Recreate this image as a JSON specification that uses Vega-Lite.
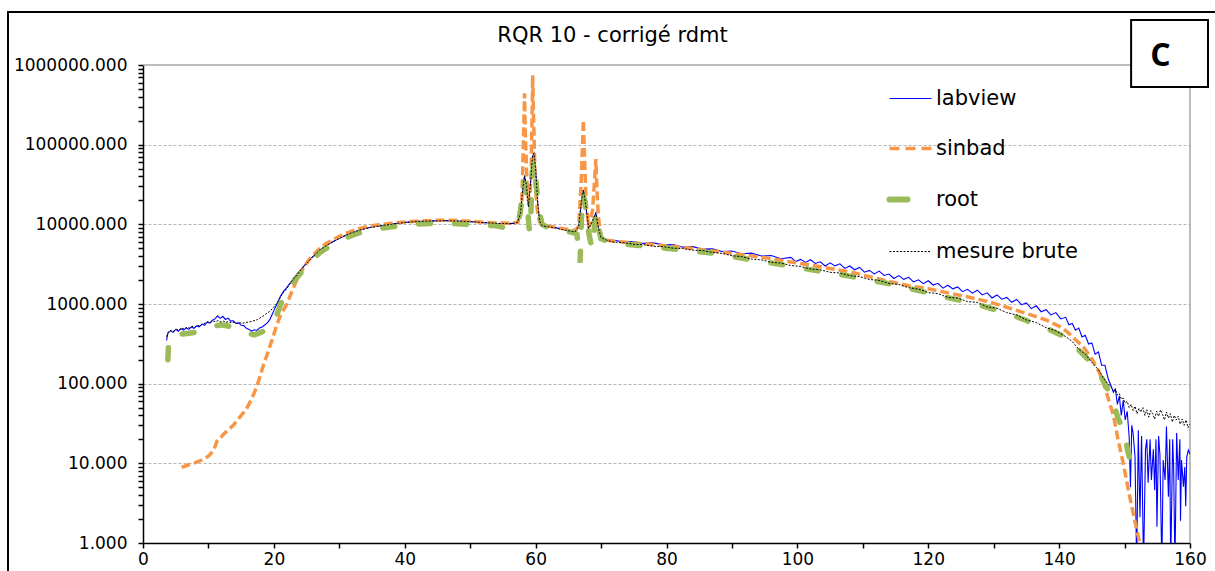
{
"$schema": "https://vega.github.io/schema/vega-lite/v6.json",
"width": 1047, "height": 478,
"autosize": {"type": "none"},
"padding": {"left": 143, "top": 65, "right": 25, "bottom": 28},
"background": "white",
"config": {"view": {"stroke": null}, "font": "DejaVu Sans"},
"title": {"text": "RQR 10 - corrigé rdmt", "fontSize": 21, "fontWeight": "normal", "font": "DejaVu Sans", "color": "#000", "anchor": "middle", "frame": "group", "dx": -54, "baseline": "alphabetic", "offset": -52},
"layer": [
{"data": {"values": [{}]}, "mark": {"type": "rule", "color": "#a6a6a6", "strokeWidth": 1.5, "clip": false},
 "encoding": {"x": {"datum": 0, "type": "quantitative"}, "x2": {"datum": 160}, "y": {"datum": 1000000, "type": "quantitative"}}},
{"data": {"values": [{}]}, "mark": {"type": "rule", "color": "#a6a6a6", "strokeWidth": 1.5, "clip": false},
 "encoding": {"x": {"datum": 160, "type": "quantitative"}, "y": {"datum": 1, "type": "quantitative"}, "y2": {"datum": 1000000}}},
{"data": {"values": [
{"x":3.6,"y":350},{"x":3.8,"y":430},{"x":4.2,"y":460},{"x":4.6,"y":440},{"x":5.0,"y":480},{"x":5.4,"y":455},{"x":5.8,"y":490},{"x":6.2,"y":470},{"x":6.6,"y":500},{"x":7.0,"y":480},{"x":7.4,"y":515},{"x":7.8,"y":495},{"x":8.2,"y":530},{"x":8.6,"y":515},{"x":9.0,"y":560},{"x":9.4,"y":540},{"x":9.8,"y":590},{"x":10.2,"y":575},{"x":10.6,"y":625},{"x":11.0,"y":650},{"x":11.4,"y":710},{"x":11.8,"y":660},{"x":12.2,"y":700},{"x":12.6,"y":640},{"x":13.0,"y":665},{"x":13.4,"y":610},{"x":13.8,"y":615},{"x":14.2,"y":570},{"x":14.6,"y":580},{"x":15.0,"y":540},{"x":15.4,"y":535},{"x":15.8,"y":495},{"x":16.2,"y":480},{"x":16.6,"y":455},{"x":17.0,"y":475},{"x":17.4,"y":465},{"x":17.8,"y":500},{"x":18.2,"y":515},{"x":18.6,"y":545},{"x":19.0,"y":580},{"x":19.4,"y":640},{"x":19.8,"y":760},{"x":20.2,"y":900},{"x":20.6,"y":1050},{"x":21.0,"y":1250},{"x":21.5,"y":1450},{"x":22.0,"y":1620},{"x":22.5,"y":1850},{"x":23.0,"y":2100},{"x":23.5,"y":2350},{"x":24.0,"y":2650},{"x":24.5,"y":2950},{"x":25.0,"y":3250},{"x":25.5,"y":3600},{"x":26.0,"y":3950},{"x":27.0,"y":4700},{"x":28.0,"y":5450},{"x":29.0,"y":6050},{"x":30.0,"y":6700},{"x":31.0,"y":7300},{"x":32.0,"y":7900},{"x":33.0,"y":8450},{"x":34.0,"y":8850},{"x":35.0,"y":9250},{"x":36.0,"y":9500},{"x":37.0,"y":9800},{"x":38.0,"y":10100},{"x":39.0,"y":10350},{"x":40.0,"y":10600},{"x":41,"y":10750},{"x":42.0,"y":10900},{"x":43,"y":10950},{"x":44.0,"y":11050},{"x":45,"y":11000},{"x":46.0,"y":11150},{"x":47,"y":11050},{"x":48.0,"y":11000},{"x":49,"y":10950},{"x":50.0,"y":10800},{"x":51,"y":10700},{"x":52.0,"y":10500},{"x":53,"y":10450},{"x":54.0,"y":10300},{"x":55.0,"y":10250},{"x":56.0,"y":10200},{"x":56.8,"y":10350},{"x":57.3,"y":10800},{"x":57.7,"y":14000},{"x":58.0,"y":26000},{"x":58.3,"y":40000},{"x":58.6,"y":30000},{"x":58.9,"y":17000},{"x":59.2,"y":32000},{"x":59.5,"y":70000},{"x":59.75,"y":78000},{"x":60.0,"y":48000},{"x":60.3,"y":19000},{"x":60.6,"y":11000},{"x":61.0,"y":9700},{"x":62.0,"y":9400},{"x":63.0,"y":9100},{"x":64.0,"y":8800},{"x":65.0,"y":8500},{"x":66.0,"y":8200},{"x":66.6,"y":9500},{"x":67.0,"y":19000},{"x":67.3,"y":27000},{"x":67.7,"y":16000},{"x":68.1,"y":9000},{"x":68.6,"y":10500},{"x":69.2,"y":13900},{"x":69.6,"y":9000},{"x":70.0,"y":6900},{"x":71.0,"y":6300},
{"x":72,"y":6300},{"x":73.5,"y":5980},{"x":75,"y":6090},{"x":76.5,"y":5760},{"x":78,"y":5850},{"x":79.5,"y":5530},{"x":81,"y":5560},{"x":82.5,"y":5170},{"x":84,"y":5250},{"x":85.5,"y":4880},{"x":87,"y":4920},{"x":88.5,"y":4560},{"x":90,"y":4620},{"x":91.5,"y":4270},{"x":93,"y":4350},{"x":94.5,"y":4000},{"x":96,"y":4060},{"x":97.5,"y":3700},
{"x":99,"y":3840},{"x":99.75,"y":3410},{"x":100.5,"y":3630},{"x":101.25,"y":3320},{"x":102,"y":3590},{"x":102.75,"y":3230},{"x":103.5,"y":3390},{"x":104.25,"y":3000},{"x":105,"y":3290},{"x":105.75,"y":3010},{"x":106.5,"y":3190},{"x":107.25,"y":2800},{"x":108,"y":3000},{"x":108.75,"y":2690},{"x":109.5,"y":2880},{"x":110.25,"y":2510},{"x":111,"y":2640},{"x":111.75,"y":2390},{"x":112.5,"y":2590},{"x":113.25,"y":2280},{"x":114,"y":2380},{"x":114.75,"y":2090},{"x":115.5,"y":2270},{"x":116.25,"y":2040},{"x":117,"y":2160},{"x":117.75,"y":1890},{"x":118.5,"y":2010},{"x":119.25,"y":1800},{"x":120,"y":1960},{"x":120.75,"y":1730},{"x":121.5,"y":1820},{"x":122.25,"y":1580},{"x":123,"y":1720},{"x":123.75,"y":1550},{"x":124.5,"y":1640},{"x":125.25,"y":1430},{"x":126,"y":1530},{"x":126.75,"y":1370},{"x":127.5,"y":1490},{"x":128.25,"y":1300},{"x":129,"y":1380},{"x":129.75,"y":1190},{"x":130.5,"y":1300},{"x":131.25,"y":1150},{"x":132,"y":1210},{"x":132.75,"y":1050},{"x":133.5,"y":1140},{"x":134.25,"y":980},{"x":135,"y":1030},{"x":135.75,"y":875},{"x":136.5,"y":950},{"x":137.25,"y":800},{"x":138,"y":850},{"x":138.75,"y":730},{"x":139.5,"y":780},{"x":140.25,"y":650},{"x":141,"y":680},{"x":141.5,"y":550},{"x":142,"y":570},{"x":142.5,"y":470},{"x":143,"y":500},{"x":143.5,"y":385},{"x":144,"y":405},{"x":144.5,"y":315},{"x":145,"y":325},{"x":145.5,"y":235},{"x":146,"y":250},{"x":146.5,"y":170},{"x":147,"y":170},{"x":147.5,"y":115},
{"x":148.0,"y":91},{"x":148.3,"y":78},{"x":148.6,"y":85},{"x":148.9,"y":55},{"x":149.2,"y":70},{"x":149.5,"y":40},{"x":149.8,"y":62},{"x":150.1,"y":35},{"x":150.4,"y":45},{"x":150.7,"y":22},{"x":150.9,"y":5},{"x":151.1,"y":30},{"x":151.3,"y":24},{"x":151.6,"y":12},{"x":151.85,"y":0.5},{"x":152.1,"y":26},{"x":152.35,"y":2.1},{"x":152.6,"y":22},{"x":152.9,"y":0.5},{"x":153.2,"y":15},{"x":153.4,"y":20},{"x":153.6,"y":5.7},{"x":153.9,"y":20},{"x":154.1,"y":6.2},{"x":154.4,"y":15},{"x":154.6,"y":4.6},{"x":154.8,"y":20},{"x":154.95,"y":1.6},{"x":155.2,"y":22},{"x":155.4,"y":13},{"x":155.7,"y":0.5},{"x":155.9,"y":11},{"x":156.2,"y":6.2},{"x":156.4,"y":29},{"x":156.7,"y":3.8},{"x":156.9,"y":20},{"x":157.05,"y":0.5},{"x":157.35,"y":20},{"x":157.5,"y":9},{"x":157.7,"y":0.5},{"x":157.96,"y":24},{"x":158.2,"y":6.2},{"x":158.45,"y":20},{"x":158.55,"y":1.9},{"x":158.7,"y":11},{"x":159.0,"y":5.1},{"x":159.2,"y":9},{"x":159.35,"y":2.9},{"x":159.5,"y":12},{"x":159.75,"y":14.7},{"x":160.0,"y":13}
]},
 "mark": {"type": "line", "clip": true, "strokeWidth": 1.1},
 "encoding": {
  "x": {"field": "x", "type": "quantitative", "scale": {"domain": [0, 160], "nice": false, "zero": false},
   "axis": {"title": null, "values": [0,10,20,30,40,50,60,70,80,90,100,110,120,130,140,150,160], "labelExpr": "datum.value % 20 == 0 ? datum.label : ''", "grid": false, "domainColor": "#000", "domainWidth": 1.5, "tickColor": "#000", "tickWidth": 1.5, "tickSize": 5, "labelFont": "DejaVu Sans", "labelFontSize": 17, "labelColor": "#000", "labelPadding": 3, "labelFlush": false, "labelOverlap": false}},
  "y": {"field": "y", "type": "quantitative", "scale": {"type": "log", "domain": [1, 1000000], "nice": false},
   "axis": {"title": null, "values": [1,2,3,4,5,6,7,8,9,10,20,30,40,50,60,70,80,90,100,200,300,400,500,600,700,800,900,1000,2000,3000,4000,5000,6000,7000,8000,9000,10000,20000,30000,40000,50000,60000,70000,80000,90000,100000,200000,300000,400000,500000,600000,700000,800000,900000,1000000],
    "labelExpr": "indexof([1,10,100,1000,10000,100000,1000000], datum.value) >= 0 ? format(datum.value, '.3f') : ''",
    "grid": true, "gridColor": "#b4b4b4", "gridDash": [3, 2], "gridWidth": 1,
    "gridOpacity": {"condition": {"test": "indexof([10,100,1000,10000,100000], datum.value) >= 0", "value": 1}, "value": 0},
    "domainColor": "#000", "domainWidth": 1.5, "tickColor": "#000", "tickWidth": 1.5, "tickSize": 5,
    "labelFont": "DejaVu Sans", "labelFontSize": 17, "labelColor": "#000", "labelPadding": 11, "labelOverlap": false, "labelBaseline": "middle"}},
  "color": {"datum": "labview", "type": "nominal",
   "scale": {"domain": ["labview", "sinbad", "root", "mesure brute"], "range": ["#0000ff", "#f79646", "#9bbb59", "#000000"]},
   "legend": {"title": null, "orient": "none", "legendX": 757, "legendY": 23, "symbolType": "stroke", "symbolSize": 1764,
    "labelFont": "DejaVu Sans", "labelFontSize": 21, "labelColor": "#000", "labelOffset": 15, "rowPadding": 28, "padding": 0,
    "encode": {"symbols": {"update": {
      "size": {"value": 1764},
      "strokeWidth": {"signal": "datum.value == 'sinbad' ? 3.5 : datum.value == 'root' ? 6 : 1"},
      "strokeDash": {"signal": "datum.value == 'sinbad' ? [10, 6] : datum.value == 'root' ? [18, 40] : datum.value == 'mesure brute' ? [2, 1.5] : [100, 0]"},
      "strokeCap": {"signal": "datum.value == 'root' ? 'round' : 'butt'"}}}}}}
 }},
{"data": {"values": [
{"x":5.9,"y":8.9},{"x":7,"y":9.6},{"x":8,"y":10.2},{"x":9,"y":11},{"x":10,"y":12.3},{"x":10.8,"y":14.5},{"x":11.3,"y":19},{"x":12.5,"y":24},{"x":13.8,"y":30},{"x":14.8,"y":38},{"x":15.8,"y":48},{"x":16.5,"y":62},{"x":17.1,"y":80},{"x":17.7,"y":110},{"x":18.4,"y":170},{"x":19.1,"y":250},{"x":19.7,"y":350},{"x":20.3,"y":500},{"x":20.9,"y":690},{"x":21.5,"y":850},{"x":22,"y":1000},{"x":22.7,"y":1400},{"x":23.5,"y":2000},{"x":24.5,"y":2850},{"x":25.5,"y":3700},{"x":27,"y":5000},{"x":28,"y":5750},{"x":29,"y":6400},{"x":30,"y":7050},{"x":31,"y":7700},{"x":32,"y":8300},{"x":33,"y":8800},{"x":34,"y":9250},{"x":35,"y":9600},{"x":36,"y":9900},{"x":38,"y":10300},{"x":40,"y":10700},{"x":42,"y":11000},{"x":44,"y":11200},{"x":46,"y":11250},{"x":48,"y":11150},{"x":50,"y":10950},{"x":52,"y":10650},{"x":54,"y":10400},{"x":56,"y":10300},{"x":57.3,"y":10600},{"x":57.9,"y":20000},{"x":58.15,"y":120000},{"x":58.3,"y":440000},{"x":58.45,"y":120000},{"x":58.7,"y":30000},{"x":59.0,"y":17000},{"x":59.3,"y":40000},{"x":59.45,"y":200000},{"x":59.55,"y":745000},{"x":59.7,"y":200000},{"x":59.95,"y":30000},{"x":60.3,"y":14000},{"x":60.6,"y":10800},{"x":61,"y":9800},{"x":62,"y":9500},{"x":63,"y":9200},{"x":64,"y":8900},{"x":65,"y":8600},{"x":66,"y":8300},{"x":66.6,"y":9500},{"x":67.0,"y":40000},{"x":67.2,"y":120000},{"x":67.3,"y":204000},{"x":67.45,"y":80000},{"x":67.7,"y":20000},{"x":68.1,"y":9000},{"x":68.7,"y":15000},{"x":69.05,"y":40000},{"x":69.2,"y":66000},{"x":69.35,"y":30000},{"x":69.6,"y":12000},{"x":70,"y":7000},{"x":71,"y":6300},{"x":72,"y":6110},{"x":75,"y":5830},{"x":78,"y":5570},{"x":81,"y":5270},{"x":84,"y":4980},{"x":87,"y":4630},{"x":90,"y":4310},{"x":93,"y":4020},{"x":96,"y":3700},{"x":99,"y":3370},{"x":102,"y":3080},{"x":105,"y":2790},{"x":108,"y":2540},{"x":111,"y":2200},{"x":114,"y":1920},{"x":117,"y":1700},{"x":120,"y":1550},{"x":123,"y":1380},{"x":126,"y":1230},{"x":129,"y":1080},{"x":132,"y":910},{"x":135,"y":760},{"x":138,"y":630},{"x":140,"y":525},{"x":141.2,"y":450},{"x":142.5,"y":355},{"x":143.7,"y":290},{"x":145,"y":205},{"x":146.2,"y":135},{"x":147,"y":89},{"x":148.3,"y":40},{"x":149,"y":20},{"x":149.8,"y":10},{"x":150.5,"y":5},{"x":151.3,"y":2.4},{"x":152,"y":1.3},{"x":152.6,"y":0.8}
]},
 "mark": {"type": "line", "clip": true, "strokeWidth": 3.5, "strokeDash": [9, 4]},
 "encoding": {"x": {"field": "x", "type": "quantitative"}, "y": {"field": "y", "type": "quantitative"}, "color": {"datum": "sinbad", "type": "nominal"}}},
{"data": {"values": [
{"x":3.8,"y":200},{"x":3.95,"y":380},{"x":5,"y":400},{"x":6,"y":420},{"x":7,"y":430},{"x":8,"y":440},{"x":9,"y":460},{"x":10,"y":490},{"x":11,"y":530},{"x":12,"y":550},{"x":13,"y":530},{"x":14,"y":490},{"x":15,"y":460},{"x":16,"y":430},{"x":17,"y":410},{"x":18,"y":440},{"x":19,"y":480},{"x":19.7,"y":530},{"x":20.5,"y":750},{"x":21,"y":980},{"x":22,"y":1450},{"x":23,"y":1900},{"x":24,"y":2400},{"x":25,"y":3000},{"x":26,"y":3650},{"x":27,"y":4400},{"x":28,"y":5000},{"x":29,"y":5550},{"x":30,"y":6150},{"x":31,"y":6750},{"x":32,"y":7300},{"x":33,"y":7800},{"x":34,"y":8200},{"x":35,"y":8550},{"x":36,"y":8850},{"x":38,"y":9300},{"x":40,"y":9800},{"x":42,"y":10100},{"x":44,"y":10250},{"x":46,"y":10300},{"x":48,"y":10200},{"x":50,"y":10000},{"x":52,"y":9800},{"x":54,"y":9600},{"x":55.5,"y":9000},{"x":56.5,"y":9500},{"x":57.3,"y":10000},{"x":57.7,"y":15000},{"x":58.0,"y":30000},{"x":58.2,"y":35000},{"x":58.5,"y":25000},{"x":58.8,"y":15000},{"x":59.0,"y":9000},{"x":59.2,"y":8000},{"x":59.4,"y":30000},{"x":59.7,"y":63000},{"x":60.0,"y":40000},{"x":60.3,"y":20000},{"x":60.6,"y":14000},{"x":61,"y":10000},{"x":62,"y":9000},{"x":63,"y":8700},{"x":64,"y":8400},{"x":65,"y":8100},{"x":66,"y":7800},{"x":66.3,"y":7500},{"x":66.6,"y":5000},{"x":66.8,"y":3300},{"x":67.0,"y":12000},{"x":67.3,"y":24500},{"x":67.7,"y":14000},{"x":68.1,"y":8000},{"x":68.4,"y":6000},{"x":68.7,"y":5000},{"x":69.0,"y":10000},{"x":69.2,"y":14000},{"x":69.6,"y":9000},{"x":70,"y":6600},{"x":71,"y":6100},{"x":72,"y":5800},{"x":75,"y":5500},{"x":78,"y":5200},{"x":81,"y":4900},{"x":84,"y":4650},{"x":87,"y":4350},{"x":90,"y":3950},{"x":93,"y":3600},{"x":96,"y":3280},{"x":99,"y":2980},{"x":102,"y":2700},{"x":105,"y":2460},{"x":108,"y":2240},{"x":111,"y":2000},{"x":114,"y":1800},{"x":117,"y":1580},{"x":120,"y":1380},{"x":123,"y":1200},{"x":126,"y":1060},{"x":129,"y":910},{"x":132,"y":770},{"x":135,"y":620},{"x":138,"y":500},{"x":141,"y":385},{"x":143,"y":265},{"x":145,"y":180},{"x":146,"y":140},{"x":147,"y":100},{"x":148,"y":68},{"x":149,"y":37},{"x":150,"y":24},{"x":150.5,"y":14},{"x":151.3,"y":8}
]},
 "mark": {"type": "line", "clip": true, "strokeWidth": 5.5, "strokeDash": [12, 24], "strokeCap": "round"},
 "encoding": {"x": {"field": "x", "type": "quantitative"}, "y": {"field": "y", "type": "quantitative"}, "color": {"datum": "root", "type": "nominal"}}},
{"data": {"values": [
{"x":3.6,"y":390},{"x":3.9,"y":450},{"x":4.3,"y":470},{"x":4.7,"y":455},{"x":5.1,"y":480},{"x":5.5,"y":470},{"x":5.9,"y":500},{"x":6.3,"y":485},{"x":6.7,"y":510},{"x":7.1,"y":500},{"x":7.5,"y":525},{"x":7.9,"y":510},{"x":8.3,"y":540},{"x":8.7,"y":530},{"x":9.1,"y":560},{"x":9.5,"y":575},{"x":9.9,"y":600},{"x":10.3,"y":585},{"x":10.7,"y":610},{"x":11.1,"y":600},{"x":11.5,"y":620},{"x":11.9,"y":595},{"x":12.3,"y":610},{"x":12.7,"y":590},{"x":13.1,"y":600},{"x":13.5,"y":580},{"x":13.9,"y":590},{"x":14.3,"y":570},{"x":14.7,"y":585},{"x":15.1,"y":570},{"x":15.5,"y":580},{"x":15.9,"y":590},{"x":16.3,"y":595},{"x":16.7,"y":610},{"x":17.1,"y":620},{"x":17.5,"y":640},{"x":17.9,"y":670},{"x":18.3,"y":700},{"x":18.7,"y":740},{"x":19.1,"y":780},{"x":19.5,"y":830},{"x":19.9,"y":900},{"x":20.3,"y":980},{"x":20.7,"y":1100},{"x":21.1,"y":1250},{"x":21.5,"y":1400},{"x":22,"y":1580},{"x":23,"y":2050},{"x":24,"y":2600},{"x":25,"y":3240},{"x":26,"y":3950},{"x":27,"y":4760},{"x":28,"y":5400},{"x":29,"y":6000},{"x":30,"y":6650},{"x":31,"y":7300},{"x":32,"y":7900},{"x":33,"y":8400},{"x":34,"y":8850},{"x":35,"y":9200},{"x":36,"y":9500},{"x":37,"y":9800},{"x":38,"y":10000},{"x":39,"y":10300},{"x":40,"y":10500},{"x":41,"y":10700},{"x":42,"y":10850},{"x":43,"y":10950},{"x":44,"y":11000},{"x":45,"y":11050},{"x":46,"y":11100},{"x":47,"y":11050},{"x":48,"y":11000},{"x":49,"y":10900},{"x":50,"y":10800},{"x":51,"y":10650},{"x":52,"y":10500},{"x":53,"y":10400},{"x":54,"y":10300},{"x":55,"y":10250},{"x":56,"y":10200},{"x":56.8,"y":10300},{"x":57.3,"y":10700},{"x":57.7,"y":14000},{"x":58.0,"y":26000},{"x":58.3,"y":41000},{"x":58.6,"y":31000},{"x":58.9,"y":16600},{"x":59.2,"y":31000},{"x":59.5,"y":68000},{"x":59.75,"y":78000},{"x":60.0,"y":50000},{"x":60.3,"y":20000},{"x":60.6,"y":11000},{"x":61,"y":9600},{"x":62,"y":9300},{"x":63,"y":9000},{"x":64,"y":8600},{"x":65,"y":8300},{"x":66,"y":8000},{"x":66.6,"y":9500},{"x":67.0,"y":20000},{"x":67.3,"y":27000},{"x":67.7,"y":17000},{"x":68.1,"y":8900},{"x":68.6,"y":10500},{"x":69.2,"y":13900},{"x":69.6,"y":9000},{"x":70.0,"y":6800},{"x":71,"y":6250},{"x":72,"y":5980},{"x":73.5,"y":5880},{"x":75,"y":5620},{"x":76.5,"y":5550},{"x":78,"y":5300},{"x":79.5,"y":5250},{"x":81,"y":5020},{"x":82.5,"y":4960},{"x":84,"y":4740},{"x":85.5,"y":4690},{"x":87,"y":4440},{"x":88.5,"y":4330},{"x":90,"y":4030},{"x":91.5,"y":3930},{"x":93,"y":3670},{"x":94.5,"y":3580},{"x":96,"y":3340},{"x":97.5,"y":3260},{"x":99,"y":3040},{"x":100.5,"y":2960},{"x":102,"y":2750},{"x":103.5,"y":2690},{"x":105,"y":2500},{"x":106.5,"y":2450},{"x":108,"y":2270},{"x":109.5,"y":2210},{"x":111,"y":2030},{"x":112.5,"y":1980},{"x":114,"y":1810},{"x":115.5,"y":1760},{"x":117,"y":1600},{"x":118.5,"y":1540},{"x":120,"y":1390},{"x":121.5,"y":1350},{"x":123,"y":1210},{"x":124.5,"y":1190},{"x":126,"y":1070},{"x":127.5,"y":1050},{"x":129,"y":920},{"x":130.5,"y":885},{"x":132,"y":780},{"x":133.5,"y":730},{"x":135,"y":630},{"x":136.5,"y":585},{"x":138,"y":505},{"x":139.5,"y":460},{"x":141,"y":390},{"x":142,"y":340},{"x":143,"y":270},{"x":144,"y":235},{"x":145,"y":185},{"x":146,"y":150},{"x":147,"y":110},
{"x":148.0,"y":89},{"x":148.3,"y":80},{"x":148.6,"y":86},{"x":148.9,"y":72},{"x":149.2,"y":75},{"x":149.5,"y":64},{"x":149.8,"y":66},{"x":150.1,"y":57},{"x":150.4,"y":60},{"x":150.7,"y":50},{"x":151.0,"y":55},{"x":151.3,"y":46},{"x":151.6,"y":52},{"x":151.9,"y":42},{"x":152.2,"y":49},{"x":152.5,"y":44},{"x":152.8,"y":50},{"x":153.1,"y":40},{"x":153.4,"y":47},{"x":153.7,"y":38},{"x":154.0,"y":46},{"x":154.3,"y":42},{"x":154.6,"y":36},{"x":154.9,"y":45},{"x":155.2,"y":39},{"x":155.5,"y":47},{"x":155.8,"y":41},{"x":156.1,"y":35},{"x":156.4,"y":44},{"x":156.7,"y":37},{"x":157.0,"y":42},{"x":157.3,"y":33},{"x":157.6,"y":40},{"x":157.9,"y":35},{"x":158.2,"y":39},{"x":158.5,"y":31},{"x":158.8,"y":36},{"x":159.1,"y":30},{"x":159.4,"y":35},{"x":159.7,"y":28},{"x":160.0,"y":31}
]},
 "mark": {"type": "line", "clip": true, "strokeWidth": 1, "strokeDash": [2, 1.5]},
 "encoding": {"x": {"field": "x", "type": "quantitative"}, "y": {"field": "y", "type": "quantitative"}, "color": {"datum": "mesure brute", "type": "nominal"}}},
{"data": {"values": [{"label": "C"}]}, "mark": {"type": "rect", "fill": "white", "stroke": "black", "strokeWidth": 2, "clip": false},
 "encoding": {"x": {"datum": 151, "type": "quantitative"}, "x2": {"datum": 162.75}, "y": {"datum": 3670000, "type": "quantitative"}, "y2": {"datum": 530000}}},
{"data": {"values": [{"label": "C"}]}, "mark": {"type": "text", "font": "Open Sans", "fontWeight": "bold", "fontSize": 32, "color": "black", "clip": false, "baseline": "middle", "align": "center"},
 "encoding": {"x": {"datum": 155.5, "type": "quantitative"}, "y": {"datum": 1300000, "type": "quantitative"}, "text": {"field": "label"}}},
{"data": {"values": [{}]}, "mark": {"type": "rect", "filled": false, "fill": null, "stroke": "black", "strokeWidth": 2, "clip": false},
 "encoding": {"x": {"datum": -20.63, "type": "quantitative"}, "x2": {"datum": 175}, "y": {"datum": 4620000, "type": "quantitative"}, "y2": {"datum": 0.1}}}
]
}
